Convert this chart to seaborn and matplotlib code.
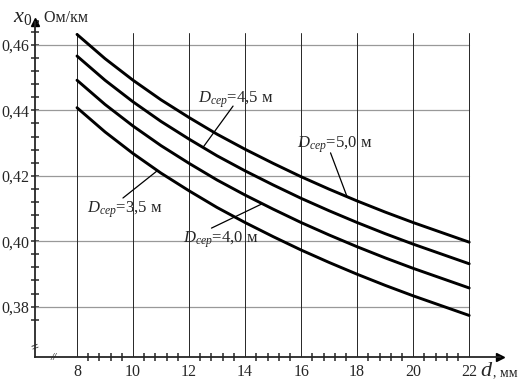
import numpy as np
import pandas as pd
import matplotlib
matplotlib.use('Agg')
import matplotlib.pyplot as plt
import matplotlib.ticker as mticker
import seaborn as sns

# d, mm
d_vals = [8, 9, 10, 11, 12, 13, 14, 15, 16, 17, 18, 19, 20, 21, 22]
# x0, Ohm/km
x0_50 = [0.4632, 0.4558, 0.4492, 0.4432, 0.4378, 0.4327, 0.4281, 0.4238,
         0.4197, 0.4159, 0.4123, 0.4089, 0.4057, 0.4027, 0.3997]
x0_45 = [0.4566, 0.4492, 0.4426, 0.4366, 0.4312, 0.4261, 0.4215, 0.4172,
         0.4131, 0.4093, 0.4057, 0.4023, 0.3991, 0.3961, 0.3931]
x0_40 = [0.4492, 0.4418, 0.4352, 0.4292, 0.4238, 0.4187, 0.4141, 0.4098,
         0.4057, 0.4019, 0.3983, 0.3949, 0.3917, 0.3887, 0.3857]
x0_35 = [0.4408, 0.4334, 0.4268, 0.4208, 0.4154, 0.4103, 0.4057, 0.4014,
         0.3973, 0.3935, 0.3899, 0.3865, 0.3833, 0.3803, 0.3773]
series = {'5,0': x0_50, '4,5': x0_45, '4,0': x0_40, '3,5': x0_35}

x_major = [8, 10, 12, 14, 16, 18, 20, 22]
y_major = [0.38, 0.40, 0.42, 0.44, 0.46]

df = pd.concat([pd.DataFrame({'d': d_vals, 'x0': v, 'D': k}) for k, v in series.items()])

sns.set_style('ticks')
plt.rcParams['font.family'] = ['Liberation Serif', 'DejaVu Serif']
plt.rcParams['mathtext.fontset'] = 'custom'
plt.rcParams['mathtext.rm'] = 'Liberation Serif'
plt.rcParams['mathtext.it'] = 'Liberation Serif:italic'

W, H = 524, 380
fig = plt.figure(figsize=(W / 100, H / 100), dpi=100)
ax = fig.add_axes([35 / W, 23 / H, (500 - 35) / W, (357 - 22) / H])
ax.set_xlim(6.5, 23.1)
ax.set_ylim(0.3646, 0.4670)

# grid
for yv in y_major:
    ax.plot([6.5, 22], [yv, yv], color='0.6', lw=0.9, zorder=1)
for xv in x_major:
    ax.plot([xv, xv], [0.3646, 0.4637], color='0.15', lw=0.7, zorder=1)

sns.lineplot(data=df, x='d', y='x0', hue='D', palette=['black'] * 4,
             linewidth=2.1, legend=False, ax=ax, zorder=3)

# axes look
for s in ['top', 'right']:
    ax.spines[s].set_visible(False)
for s in ['left', 'bottom']:
    ax.spines[s].set_linewidth(1.3)
ax.plot(1, 0, '>', color='k', ms=6, transform=ax.transAxes, clip_on=False)
ax.plot(0, 1, '^', color='k', ms=6, transform=ax.transAxes, clip_on=False)

ax.set_xticks(x_major)
ax.set_yticks(y_major)
ax.xaxis.set_minor_locator(mticker.FixedLocator(
    [v for v in np.arange(8, 22.01, 0.4) if all(abs(v - m) > 0.01 for m in x_major)]))
ax.yaxis.set_minor_locator(mticker.FixedLocator(
    [v for v in np.arange(0.376, 0.4645, 0.004) if all(abs(v - m) > 1e-4 for m in y_major)]))
ax.yaxis.set_major_formatter(mticker.FuncFormatter(lambda v, p: f'{v:.2f}'.replace('.', ',')))
ax.xaxis.set_major_formatter(mticker.FuncFormatter(lambda v, p: f'{v:.0f}'))
ax.tick_params(which='both', direction='inout', length=6, width=1.1, labelsize=11.5)
ax.tick_params(axis='x', which='major', length=0, pad=5)
ax.tick_params(axis='y', which='major', pad=1)
ax.set_xlabel('')
ax.set_ylabel('')

# axis break marks
ax.text(6.5, 0.3677, '=', rotation=20, ha='center', va='center', fontsize=10)
ax.text(7.15, 0.3646, '//', ha='center', va='center', fontsize=8, style='italic')

# axis titles
fig.text(13 / W, 1 - 22 / H, r'$x_0$', fontsize=16, ha='left', va='baseline')
fig.text(36 / W, 1 - 22 / H, ', Ом/км', fontsize=11.5, ha='left', va='baseline')
fig.text(480 / W, 1 - 376 / H, r'$d$', fontsize=16, ha='left', va='baseline')
fig.text(493 / W, 1 - 376 / H, ', мм', fontsize=10, ha='left', va='baseline')

# curve labels with leader lines
labels = [
    ('4,5', (12.32, 0.4432), (12.5, 0.4287), (13.57, 0.4413)),
    ('5,0', (15.86, 0.4294), (17.64, 0.4136), (17.05, 0.4270)),
    ('3,5', (8.36, 0.4095), (10.86, 0.4215), (9.64, 0.4132)),
    ('4,0', (11.79, 0.4004), (14.6, 0.4114), (12.8, 0.4040)),
]
for D, txt_xy, tip, start in labels:
    ax.text(txt_xy[0], txt_xy[1], r'$D_{сер}$=' + D + ' м', fontsize=12,
            ha='left', va='center', zorder=5)
    ax.plot([start[0], tip[0]], [start[1], tip[1]], color='k', lw=0.9, zorder=4)

fig.savefig('out.png', dpi=100)
